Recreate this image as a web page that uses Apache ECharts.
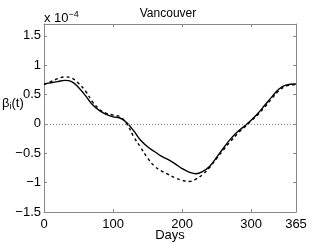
<!DOCTYPE html>
<html>
<head>
<meta charset="utf-8">
<script src="https://cdn.jsdelivr.net/npm/echarts@6/dist/echarts.min.js"></script>
<style>html,body{margin:0;padding:0;background:#fff}#c{width:327px;height:244px}</style>
</head>
<body>
<div id="c"></div>
<script>
var days = [0,10,20,30,40,50,60,70,80,90,100,110,120,130,140,150,160,170,180,190,200,210,220,230,240,250,260,270,280,290,300,310,320,330,340,350,365];
var solidVals = [0.68,0.70,0.72,0.74,0.72,0.62,0.48,0.33,0.23,0.16,0.12,0.10,0.02,-0.12,-0.28,-0.39,-0.47,-0.55,-0.61,-0.68,-0.76,-0.82,-0.85,-0.81,-0.72,-0.57,-0.41,-0.26,-0.14,-0.04,0.06,0.18,0.32,0.46,0.59,0.66,0.68];
var dashedVals = [0.67,0.72,0.77,0.80,0.78,0.69,0.56,0.38,0.25,0.18,0.15,0.12,0.00,-0.22,-0.40,-0.58,-0.72,-0.80,-0.86,-0.92,-0.96,-0.98,-0.94,-0.86,-0.74,-0.59,-0.44,-0.30,-0.17,-0.06,0.05,0.16,0.29,0.43,0.56,0.64,0.67];
var xTicks = [0,100,200,300,365];
var yTicks = [-1.5,-1,-0.5,0,0.5,1,1.5];
var titleText = 'Vancouver';
var xName = 'Days';

var font = 'Arial, "Liberation Sans", Helvetica, sans-serif';
var axisCol = '#8a8a8a';
function pairs(v){ return days.map(function(d,i){ return [d, v[i]]; }); }
function fmt(v){ return String(v).replace('-', '\u2212'); }

var chart = echarts.init(document.getElementById('c'));
chart.setOption({
  animation: false,
  backgroundColor: '#fff',
  grid: {left: 44, right: 31, top: 24, bottom: 32, containLabel: false, outerBoundsMode: 'none'},
  title: {text: titleText, left: 163, top: 3, textAlign: 'center',
    textStyle: {fontFamily: font, fontSize: 12, fontWeight: 'normal', color: '#000'}},
  xAxis: [{
    type: 'value', min: 0, max: 365, interval: 100, position: 'bottom',
    axisLine: {onZero: false, lineStyle: {color: axisCol}},
    axisTick: {inside: true, length: 3, lineStyle: {color: axisCol}},
    axisLabel: {color: '#000', fontFamily: font, fontSize: 13, margin: 6},
    splitLine: {show: false},
    name: xName, nameLocation: 'middle', nameGap: 17, nameMoveOverlap: false,
    nameTextStyle: {color: '#000', fontFamily: font, fontSize: 13, verticalAlign: 'top'}
  },{
    type: 'value', min: 0, max: 365, interval: 100, position: 'top',
    axisLine: {onZero: false, lineStyle: {color: axisCol}},
    axisTick: {inside: true, length: 3, lineStyle: {color: axisCol}},
    axisLabel: {show: false}, splitLine: {show: false}
  }],
  yAxis: [{
    type: 'value', min: -1.5, max: 1.7, interval: 0.5, position: 'left',
    axisLine: {show: true, onZero: false, lineStyle: {color: axisCol}},
    axisTick: {show: true, inside: true, length: 3, lineStyle: {color: axisCol}},
    axisLabel: {color: '#000', fontFamily: font, fontSize: 13, margin: 3, showMaxLabel: false, formatter: fmt},
    splitLine: {show: false}
  },{
    type: 'value', min: -1.5, max: 1.7, interval: 0.5, position: 'right',
    axisLine: {show: true, onZero: false, lineStyle: {color: axisCol}},
    axisTick: {show: true, inside: true, length: 3, lineStyle: {color: axisCol}},
    axisLabel: {show: false}, splitLine: {show: false}
  }],
  graphic: [
    {type: 'text', left: 44, top: 10, style: {
      rich: {a: {fontFamily: font, fontSize: 13, fill: '#000'}, s: {fontFamily: font, fontSize: 9, fill: '#000', verticalAlign: 'top', padding: [0,0,8,0]}},
      text: '{a|x 10}{s|\u22124}'}},
    {type: 'text', left: 2, top: 97, style: {
      rich: {a: {fontFamily: font, fontSize: 13, fill: '#000'}, s: {fontFamily: font, fontSize: 9, fill: '#000', padding: [6,0,0,0]}},
      text: '{a|\u03b2}{s|i}{a|(t)}'}}
  ],
  series: [
    {type: 'line', data: pairs(solidVals), smooth: 0.4, showSymbol: false, symbol: 'none',
      lineStyle: {color: '#000', width: 1.4}, z: 3,
      markLine: {silent: true, symbol: 'none', label: {show: false},
        lineStyle: {color: '#888', type: [1,2], width: 1},
        data: [{yAxis: 0}]}},
    {type: 'line', data: pairs(dashedVals), smooth: 0.4, showSymbol: false, symbol: 'none',
      lineStyle: {color: '#000', width: 1.4, type: [3,3]}, z: 3}
  ]
});
</script>
</body>
</html>
